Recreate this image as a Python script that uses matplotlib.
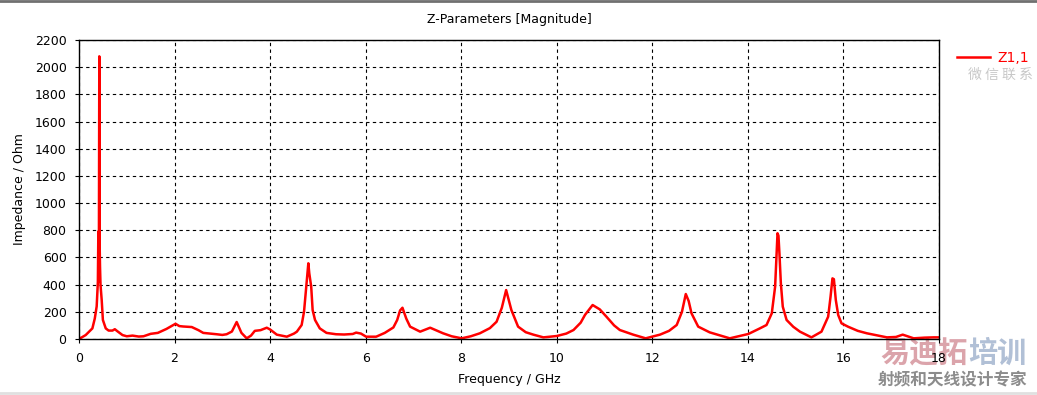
import matplotlib
matplotlib.use("Agg")
import matplotlib.pyplot as plt
from matplotlib.lines import Line2D

# Z1,1 magnitude (GHz, Ohm)
freq_ghz = [
    0.00, 0.14, 0.28, 0.33, 0.37, 0.395, 0.405, 0.415, 0.425, 0.432,
    0.44, 0.45, 0.475, 0.50, 0.56, 0.62, 0.70, 0.75, 0.80, 0.91,
    1.00, 1.12, 1.25, 1.35, 1.50, 1.65, 1.83, 2.02, 2.10, 2.18,
    2.36, 2.50, 2.60, 2.75, 2.88, 3.00, 3.09, 3.20, 3.30, 3.40,
    3.51, 3.60, 3.68, 3.80, 3.93, 4.00, 4.14, 4.35, 4.50, 4.56,
    4.66, 4.71, 4.75, 4.80, 4.82, 4.86, 4.89, 4.94, 5.04, 5.18,
    5.38, 5.55, 5.73, 5.80, 5.90, 6.01, 6.22, 6.40, 6.58, 6.66,
    6.72, 6.77, 6.85, 6.93, 7.14, 7.35, 7.62, 7.80, 8.01, 8.20,
    8.39, 8.60, 8.74, 8.85, 8.94, 9.05, 9.19, 9.35, 9.51, 9.72,
    10.00, 10.20, 10.35, 10.50, 10.59, 10.75, 10.90, 11.04, 11.20, 11.32,
    11.60, 11.86, 12.16, 12.35, 12.51, 12.62, 12.70, 12.76, 12.82, 12.96,
    13.20, 13.62, 14.01, 14.25, 14.39, 14.50, 14.57, 14.62, 14.64, 14.66,
    14.69, 14.73, 14.81, 14.95, 15.09, 15.33, 15.54, 15.68, 15.73, 15.77,
    15.80, 15.84, 15.89, 15.96, 16.10, 16.30, 16.49, 16.91, 17.10, 17.24,
    17.47, 17.70, 17.89, 18.00,
]
z11_ohm = [
    0, 29, 78, 150, 240, 420, 790, 420, 2080, 700,
    530, 400, 287, 140, 78, 62, 62, 72, 58, 29,
    20, 25, 18, 20, 38, 45, 74, 112, 95, 92,
    88, 65, 45, 40, 35, 30, 35, 55, 125, 45,
    5, 25, 60, 65, 83, 70, 32, 17, 40, 54,
    103, 201, 360, 557, 483, 385, 213, 140, 78, 45,
    35, 33, 37, 47, 40, 17, 17, 45, 85, 140,
    210, 230, 150, 91, 54, 83, 42, 20, 5, 20,
    42, 80, 127, 230, 360, 213, 91, 50, 32, 12,
    22, 40, 66, 120, 177, 250, 218, 164, 100, 66,
    32, 5, 32, 60, 103, 200, 331, 280, 189, 91,
    49, 5, 37, 78, 103, 189, 385, 778, 760, 631,
    410, 238, 140, 90, 54, 12, 54, 164, 311, 446,
    440, 287, 177, 115, 90, 60, 42, 12, 15, 32,
    5, 10, 12, 12,
]
x_ticks = list(range(0, 19, 2))
y_ticks = list(range(0, 2201, 200))

fig = plt.figure(figsize=(10.37, 3.95), dpi=100)
ax = fig.add_axes([79 / 1037, 56 / 395, 860 / 1037, 299 / 395])
ax.patch.set_alpha(0)

ax.plot(freq_ghz, z11_ohm, color="red", lw=1.8, label="Z1,1")

ax.set_xlim(0, 18)
ax.set_ylim(0, 2200)
ax.set_xticks(x_ticks)
ax.set_yticks(y_ticks)
ax.grid(True, color="black", linestyle=(0, (3, 3)), linewidth=0.8)
ax.tick_params(direction="out", length=3, width=0.8, labelsize=9, pad=6)
for s in ax.spines.values():
    s.set_linewidth(1.0)

ax.set_title("Z-Parameters [Magnitude]", fontsize=9, pad=12)
ax.set_xlabel("Frequency / GHz", fontsize=9, labelpad=6)
ax.set_ylabel("Impedance / Ohm", fontsize=9, labelpad=6)

ax.legend(loc="upper left", bbox_to_anchor=(957 / 1037, 344 / 395),
          bbox_transform=fig.transFigure, frameon=False, fontsize=10,
          handlelength=2.4, handletextpad=0.5, labelcolor="red",
          borderaxespad=0, borderpad=0)

# window border lines
fig.add_artist(Line2D([0, 1], [0.997, 0.997], transform=fig.transFigure,
                      color="#707070", lw=2))
fig.add_artist(Line2D([0, 1], [0.006, 0.006], transform=fig.transFigure,
                      color="#e0e0e0", lw=2))

# watermark text, drawn beneath the axes so the tick label stays on top
cjk = ["Noto Sans CJK SC", "DejaVu Sans"]
fig.text(1000 / 1037, 1 - 75 / 395, "微 信 联 系", family=cjk, fontsize=10,
         color="#c8c8c8", ha="center", va="center", zorder=-1)
fig.text(924 / 1037, 1 - 353 / 395, "易迪拓", family=cjk, fontsize=21,
         weight="bold", color="#d89aa2", ha="center", va="center",
         alpha=0.9, zorder=-1)
fig.text(997 / 1037, 1 - 353 / 395, "培训", family=cjk, fontsize=21,
         weight="bold", color="#a9b9d2", ha="center", va="center",
         alpha=0.9, zorder=-1)
fig.text(953 / 1037, 1 - 380 / 395, "射频和天线设计专家", family=cjk,
         fontsize=12, weight="bold", color="#8c8c8c", ha="center",
         va="center", zorder=-1)

fig.savefig("out.png", dpi=100)
